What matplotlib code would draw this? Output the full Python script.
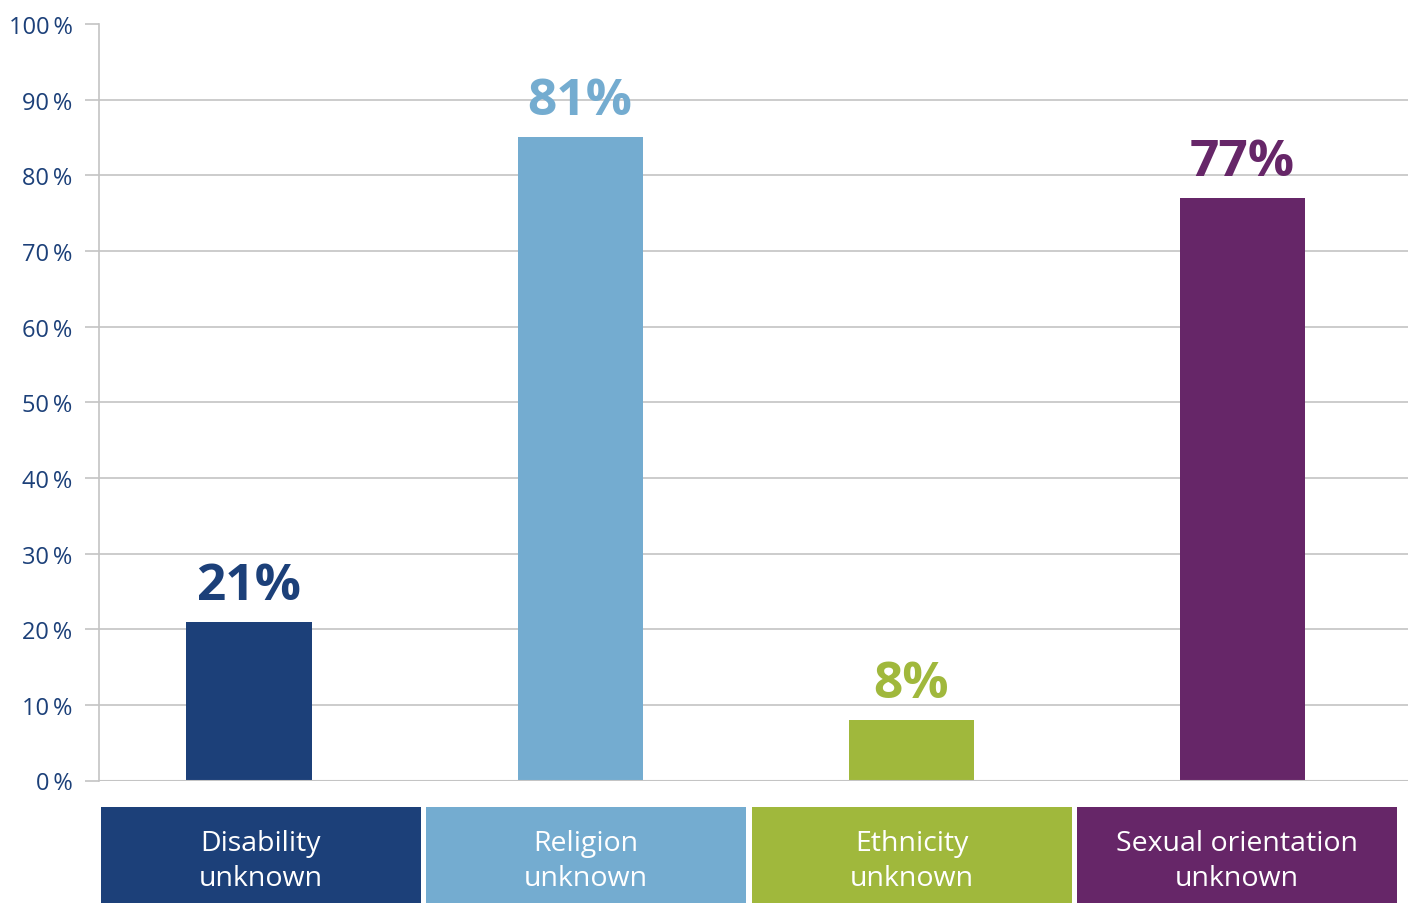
import matplotlib
matplotlib.use("Agg")
import matplotlib.pyplot as plt
from matplotlib.ticker import MultipleLocator, FuncFormatter

categories = ["Disability\nunknown", "Religion\nunknown", "Ethnicity\nunknown", "Sexual orientation\nunknown"]
values = [21, 85, 8, 77]
value_labels = ["21%", "81%", "8%", "77%"]
colors = ["#1c4079", "#74acd0", "#a0b83c", "#662668"]
tick_color = "#1c4079"
grid_color = "#c4c4c4"

plt.rcParams['font.family'] = ['Open Sans', 'DejaVu Sans']

fig = plt.figure(figsize=(14.14, 9.04), dpi=100)
W, H = 1414, 904
ax = fig.add_axes([99 / W, 1 - 781.5 / H, (1408 - 99) / W, (781.5 - 25) / H])

x = list(range(len(values)))
ax.bar(x, values, width=0.378, color=colors, zorder=3)
ax.set_xlim(-0.453, 3.50)
ax.set_ylim(0, 100)
ax.yaxis.set_major_locator(MultipleLocator(10))
ax.yaxis.set_major_formatter(FuncFormatter(lambda v, p: f"{int(v)}\u2009%"))
ax.tick_params(axis='y', length=10, width=1.2, color=grid_color, pad=9,
               labelsize=17, labelcolor=tick_color)
ax.set_xticks([])
for v in range(10, 100, 10):
    ax.axhline(v, color=grid_color, lw=1.2, zorder=1)
ax.axhline(0, color=grid_color, lw=1.5, zorder=4)
for s in ["top", "right", "bottom"]:
    ax.spines[s].set_visible(False)
ax.spines["left"].set_color(grid_color)
ax.spines["left"].set_linewidth(1.2)

for xi, v, lab, c in zip(x, values, value_labels, colors):
    ax.annotate(lab, (xi, v), xytext=(0, 8), textcoords="offset points",
                ha="center", va="bottom", fontsize=37, fontweight="bold", color=c)

# category boxes
cax = fig.add_axes([98 / W, 0, (1400 - 98) / W, (H - 808) / H])
cax.set_xlim(0, 4)
cax.set_ylim(0, 1)
cax.axis("off")
cax.bar([i + 0.5 for i in range(4)], [1] * 4, width=0.982, bottom=0, color=colors)
for i, cat in enumerate(categories):
    cax.text(i + 0.5, 0.44, cat, ha="center", va="center", color="white",
             fontsize=20.5, linespacing=1.35)

fig.savefig("out.png", dpi=100)
